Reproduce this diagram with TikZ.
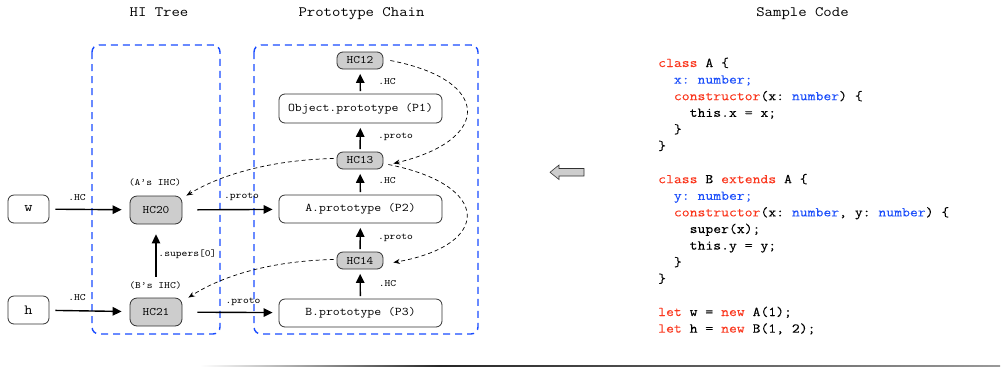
\documentclass[tikz,border=0pt]{standalone}
\usepackage{fontspec}
\setmainfont{Latin Modern Mono}[FakeStretch=1.14]
\setmonofont{Latin Modern Mono}[FakeStretch=1.14]
\newfontfamily\codefont{Latin Modern Mono}[FakeStretch=1.14, FakeBold=0.02]
\usetikzlibrary{arrows.meta}

\definecolor{regionblue}{RGB}{25,75,255}
\definecolor{kwred}{RGB}{250,55,30}
\definecolor{typeblue}{RGB}{30,80,250}
\definecolor{hcgray}{RGB}{205,205,205}
\definecolor{edgegray}{RGB}{50,50,50}

\newcommand\fsz[1]{\fontsize{#1}{#1}\selectfont}
\newcommand\kw[1]{\textcolor{kwred}{#1}}
\newcommand\ty[1]{\textcolor{typeblue}{#1}}

\tikzset{
  titletext/.style={font=\fsz{14.3}, inner sep=0, anchor=base},
  objbox/.style={draw=edgegray, line width=0.8pt, rounded corners=6pt, fill=white,
    font=\fsz{11.75}, inner sep=0, minimum width=163pt, minimum height=28pt},
  hcbox/.style={draw=edgegray, line width=0.8pt, rounded corners=6pt, fill=hcgray,
    font=\fsz{11.4}, inner sep=0, minimum width=46pt, minimum height=17pt},
  ihcbox/.style={hcbox, minimum width=52pt, minimum height=28pt, rounded corners=7pt},
  varbox/.style={objbox, minimum width=41pt, font=\fsz{14}},
  lbl/.style={font=\fsz{9.7}, inner sep=0},
  link/.style={line width=1.4pt, -{Triangle[length=9pt,width=8.5pt]}},
  uplink/.style={link, shorten <=2.5pt, shorten >=4.5pt},
  backlink/.style={line width=0.7pt, dash pattern=on 4pt off 3pt,
    -{Stealth[length=6.5pt,width=5pt]}},
  region/.style={draw=regionblue, line width=1.4pt, dash pattern=on 7pt off 5pt,
    rounded corners=7pt},
  codeline/.style={font=\codefont\fsz{13.4}, inner sep=0, anchor=base west},
}

\begin{document}
\begin{tikzpicture}[x=1pt,y=-1pt]
\useasboundingbox (0,0) rectangle (1002,368);

% column headings
\node[titletext] (thi)   at (159,16)   {HI Tree};
\node[titletext] (tpc)   at (361.5,16) {Prototype Chain};
\node[titletext] (tcode) at (802.5,16) {Sample Code};

% dashed regions
\draw[region] (92,45) rectangle (220,334);
\draw[region] (254,45) rectangle (478,334);

% prototype chain
\node[hcbox]  (hc12) at (360,60.5)  {HC12};
\node[objbox, minimum height=29pt] (p1) at (360.5,108.5) {Object.prototype (P1)};
\node[hcbox]  (hc13) at (360,160.5) {HC13};
\node[objbox] (p2)   at (360.5,209) {A.prototype (P2)};
\node[hcbox]  (hc14) at (360,260.5) {HC14};
\node[objbox] (p3)   at (360.5,313) {B.prototype (P3)};

% hidden classes of the instances
\node[ihcbox] (hc20) at (156,210) {HC20};
\node[ihcbox] (hc21) at (156,312) {HC21};
\node[lbl] (ia) at (155,183)   {(A’s IHC)};
\node[lbl] (ib) at (155.5,286) {(B’s IHC)};

% variables
\node[varbox] (w) at (28.5,209) {w};
\node[varbox] (h) at (28.5,310) {h};

% solid links
\draw[link, shorten <=6pt, shorten >=8pt] (w) -- (hc20);
\draw[link, shorten <=6pt, shorten >=8pt] (h) -- (hc21);
\draw[link, shorten <=15pt, shorten >=6pt] (hc20) -- (p2);
\draw[link, shorten <=15pt, shorten >=6pt] (hc21) -- (p3);
\draw[link, shorten <=21pt, shorten >=10pt] (hc21) -- (hc20);
\node[lbl] (lw)  at (77,198)    {.HC};
\node[lbl] (lh)  at (77,298)    {.HC};
\node[lbl] (lp2) at (241.5,197) {.proto};
\node[lbl] (lp3) at (243,302)   {.proto};
\node[lbl] (ls)  at (187.5,254) {.supers[0]};

\draw[uplink] (p1) -- (hc12);
\draw[uplink] (hc13) -- (p1);
\draw[uplink] (p2) -- (hc13);
\draw[uplink] (hc14) -- (p2);
\draw[uplink] (p3) -- (hc14);
\node[lbl] (l1) at (387,82)    {.HC};
\node[lbl] (l2) at (395.5,137) {.proto};
\node[lbl] (l3) at (387,181)   {.HC};
\node[lbl] (l4) at (395.5,238) {.proto};
\node[lbl] (l5) at (387.5,284) {.HC};

% dashed back links
\draw[backlink] ([xshift=7pt]hc12.east) .. controls (492,80) and (492,140) ..
  ([xshift=10pt,yshift=-3pt]hc13.east);
\draw[backlink] ([xshift=5pt,yshift=-4pt]hc13.east) .. controls (492,185) and (492,245) ..
  ([xshift=10pt,yshift=-2pt]hc14.east);
\draw[backlink] ([xshift=-3pt,yshift=2pt]hc13.west) .. controls (270,160) and (220,175) ..
  ([xshift=4pt]hc20.north east);
\draw[backlink] ([xshift=-3pt,yshift=1pt]hc14.west) .. controls (270,261) and (222,276) ..
  ([xshift=6pt]hc21.north east);

% block arrow from the code to the diagram
\draw[fill=hcgray, draw=edgegray, line width=0.6pt]
  (584,168.5) -- (559,168.5) -- (559,165) -- (550,172.3) -- (559,179.5)
  -- (559,176) -- (584,176) -- cycle;

% sample code
\node[codeline] (c1)  at (658,67)    {\kw{class}~A~\{};
\node[codeline] (c2)  at (658,83.6)  {~~\ty{x:~number;}};
\node[codeline] (c3)  at (658,100.2) {~~\kw{constructor}(x:~\ty{number})~\{};
\node[codeline] (c4)  at (658,116.8) {~~~~this.x~=~x;};
\node[codeline] (c5)  at (658,133.4) {~~\}};
\node[codeline] (c6)  at (658,150)   {\}};
\node[codeline] (c7)  at (658,183.2) {\kw{class}~B~\kw{extends}~A~\{};
\node[codeline] (c8)  at (658,199.8) {~~\ty{y:~number;}};
\node[codeline] (c9)  at (658,216.4) {~~\kw{constructor}(x:~\ty{number},~y:~\ty{number})~\{};
\node[codeline] (c10) at (658,233)   {~~~~super(x);};
\node[codeline] (c11) at (658,249.6) {~~~~this.y~=~y;};
\node[codeline] (c12) at (658,266.2) {~~\}};
\node[codeline] (c13) at (658,282.8) {\}};
\node[codeline] (c14) at (658,316)   {\kw{let}~w~=~\kw{new}~A(1);};
\node[codeline] (c15) at (658,332.6) {\kw{let}~h~=~\kw{new}~B(1,~2);};

% rule along the bottom
\shade[left color=white, right color=black!85] (200,365) rectangle (440,366);
\shade[left color=black!85, right color=black!40] (440,365) rectangle (1000,366);
\end{tikzpicture}
\end{document}
